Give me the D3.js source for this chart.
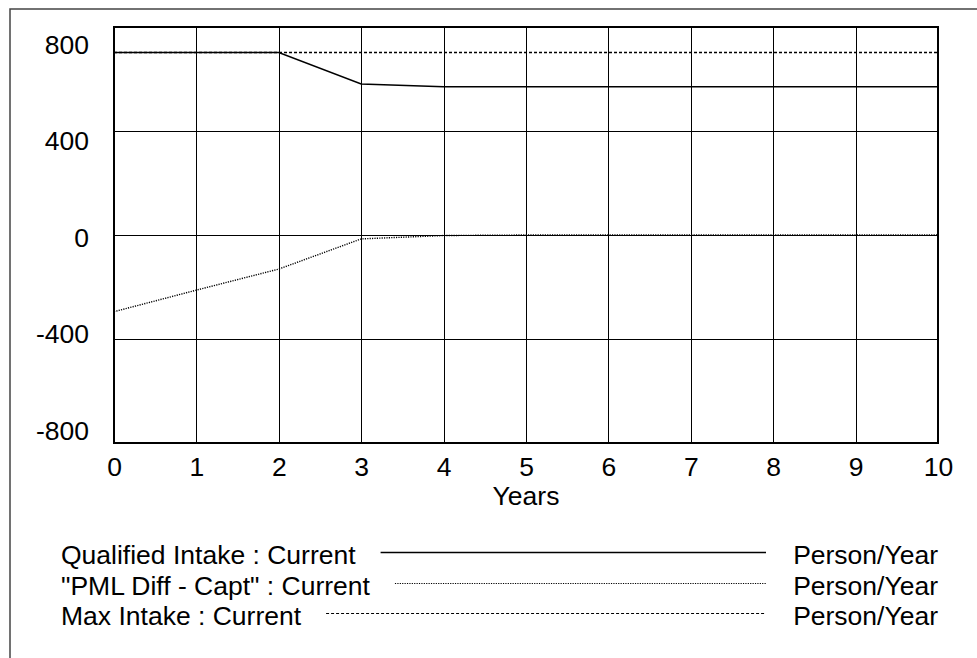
<!DOCTYPE html>
<html>
<head>
<meta charset="utf-8">
<script src="https://cdn.jsdelivr.net/npm/d3@7"></script>
<style>
    body { margin: 0; background: #fff; }
    text { font-family: Arial, "Liberation Sans", sans-serif; font-size: 26.5px; fill: #000; }
</style>
</head>
<body>
<div class="chart"></div>
<script>
var svgWidth = 977;
var svgHeight = 658;

var margin = {
    top: 27,
    right: 39,
    bottom: 215,
    left: 114
};

var width = svgWidth - margin.left - margin.right;
var height = svgHeight - margin.top - margin.bottom;

// data
var years = [0, 1, 2, 3, 4, 5, 6, 7, 8, 9, 10];
var qualifiedIntake = [702, 702, 702, 581, 570, 570, 570, 570, 570, 570, 570];
var pmlDiffCapt = [-295, -212, -131, -15, -2, 0, 0, 0, 0, 0, 0];
var maxIntake = [702, 702, 702, 702, 702, 702, 702, 702, 702, 702, 702];

var xTicks = [0, 1, 2, 3, 4, 5, 6, 7, 8, 9, 10];
var yTicks = [-800, -400, 0, 400, 800];

var seriesNames = ["Qualified Intake : Current", "\"PML Diff - Capt\" : Current", "Max Intake : Current"];
var seriesUnits = ["Person/Year", "Person/Year", "Person/Year"];
var seriesValues = [qualifiedIntake, pmlDiffCapt, maxIntake];
var seriesDash = [null, "1.2,1.2", "3,2"];

var svg = d3.select(".chart")
    .append("svg")
    .attr("width", svgWidth)
    .attr("height", svgHeight);

// outer frame
svg.append("rect")
    .attr("x", 10)
    .attr("y", 9)
    .attr("width", 980)
    .attr("height", 680)
    .attr("fill", "none")
    .attr("stroke", "#444")
    .attr("stroke-width", 1.5);

var chartGroup = svg.append("g")
    .attr("transform", `translate(${margin.left}, ${margin.top})`);

var xLinearScale = d3.scaleLinear()
    .domain([0, 10])
    .range([0, width]);

var yLinearScale = d3.scaleLinear()
    .domain([-800, 800])
    .range([height, 0]);

// tick labels are spread a bit inside the plot, like the original
var yLabelScale = d3.scaleLinear()
    .domain([-800, 800])
    .range([439 - margin.top, 53 - margin.top]);

var bottomAxis = d3.axisBottom(xLinearScale)
    .tickValues(xTicks)
    .tickSize(-height)
    .tickPadding(14)
    .tickFormat(d3.format("d"));

var leftAxis = d3.axisLeft(yLinearScale)
    .tickValues(yTicks)
    .tickSize(-width)
    .tickPadding(25)
    .tickFormat(d3.format("d"));

var xAxis = chartGroup.append("g")
    .classed("x-axis", true)
    .attr("transform", `translate(0, ${height})`)
    .call(bottomAxis);

var yAxis = chartGroup.append("g")
    .classed("y-axis", true)
    .call(leftAxis);

[xAxis, yAxis].forEach(function (ax) {
    ax.select(".domain").remove();
    ax.selectAll("line")
        .attr("stroke", "#000")
        .attr("stroke-width", 1)
        .attr("shape-rendering", "crispEdges");
    ax.attr("font-size", null).attr("font-family", null);
});

yAxis.selectAll("text")
    .attr("dy", null)
    .attr("y", d => yLabelScale(d) - yLinearScale(d))
    .text(d => String(d).replace("\u2212", "-"));

// plot frame
chartGroup.append("rect")
    .attr("x", 0)
    .attr("y", 0)
    .attr("width", width)
    .attr("height", height)
    .attr("fill", "none")
    .attr("stroke", "#000")
    .attr("stroke-width", 2);

chartGroup.append("text")
    .attr("x", width / 2)
    .attr("y", 505 - margin.top)
    .attr("text-anchor", "middle")
    .text("Years");

var line = d3.line()
    .x((d, i) => xLinearScale(years[i]))
    .y(d => yLinearScale(d));

// draw max intake first so the solid line sits on top
[2, 1, 0].forEach(function (s) {
    chartGroup.append("path")
        .datum(seriesValues[s])
        .attr("d", line)
        .attr("fill", "none")
        .attr("stroke", "#000")
        .attr("stroke-width", s === 0 ? 1.5 : 1.4)
        .attr("stroke-dasharray", seriesDash[s]);
});

// legend
var legendY = [564, 595, 625];
var legendGroup = svg.append("g");

seriesNames.forEach(function (name, i) {
    var label = legendGroup.append("text")
        .attr("x", 61)
        .attr("y", legendY[i])
        .text(name);

    var textEnd = 61 + label.node().getComputedTextLength();

    legendGroup.append("line")
        .attr("x1", textEnd + 25)
        .attr("x2", 766)
        .attr("y1", legendY[i] - 11.5)
        .attr("y2", legendY[i] - 11.5)
        .attr("stroke", "#000")
        .attr("stroke-width", i === 0 ? 1.5 : 1.2)
        .attr("stroke-dasharray", seriesDash[i]);

    legendGroup.append("text")
        .attr("x", 938)
        .attr("y", legendY[i])
        .attr("text-anchor", "end")
        .text(seriesUnits[i]);
});
</script>
</body>
</html>
